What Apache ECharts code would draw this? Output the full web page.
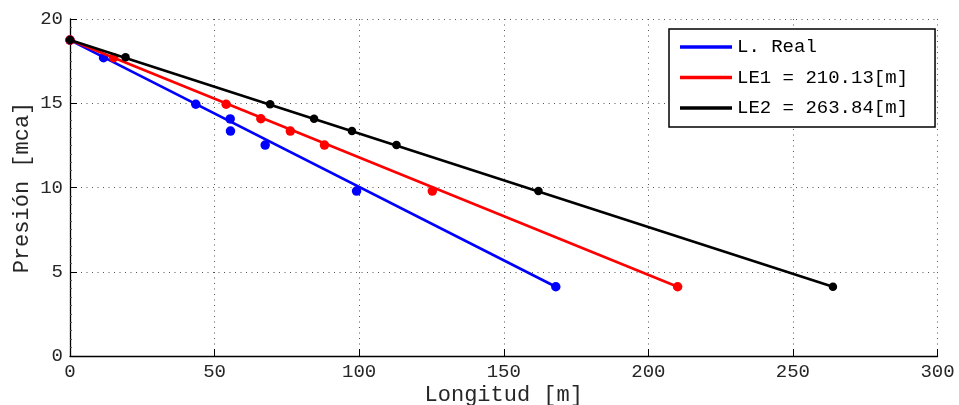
<!DOCTYPE html>
<html>
<head>
<meta charset="utf-8">
<script src="https://cdn.jsdelivr.net/npm/echarts@6/dist/echarts.min.js"></script>
<style>html,body{margin:0;padding:0;background:#fff;}#c{width:959px;height:405px;}</style>
</head>
<body>
<div id="c"></div>
<script>
// Data
const seriesNames = ['L. Real', 'LE1 = 210.13[m]', 'LE2 = 263.84[m]'];
const realX = [0, 11.6, 43.5, 55.4, 55.5, 67.5, 99.1, 168.0];
const realY = [18.75, 17.7, 14.94, 14.07, 13.35, 12.52, 9.79, 4.11];
const le1X = [0, 15.1, 54.0, 66.0, 76.2, 88.0, 125.3, 210.13];
const le1Y = [18.75, 17.7, 14.94, 14.08, 13.35, 12.52, 9.79, 4.11];
const le2X = [0, 19.2, 69.2, 84.4, 97.5, 112.9, 162.0, 263.84];
const le2Y = [18.75, 17.73, 14.94, 14.08, 13.35, 12.52, 9.79, 4.11];
const xTicks = [0, 50, 100, 150, 200, 250, 300];
const yTicks = [0, 5, 10, 15, 20];

const colors = ['#0000ff', '#ff0000', '#000000'];
const sets = [[realX, realY], [le1X, le1Y], [le2X, le2Y]];

function pts(xs, ys) { return xs.map((x, i) => [x, ys[i]]); }
function ends(xs, ys) { const n = xs.length - 1; return [[xs[0], ys[0]], [xs[n], ys[n]]]; }

const series = [];
sets.forEach((s, i) => {
  series.push({
    name: seriesNames[i], type: 'line', data: ends(s[0], s[1]),
    showSymbol: false, symbol: 'none',
    lineStyle: { color: colors[i], width: 2.6 },
    itemStyle: { color: colors[i] }, z: 2 + i * 2
  });
});
sets.forEach((s, i) => {
  series.push({
    name: seriesNames[i] + ' pts', type: 'scatter', data: pts(s[0], s[1]),
    symbol: 'circle', symbolSize: i === 2 ? 8.5 : 9.5,
    itemStyle: { color: colors[i], opacity: 1 }, z: 3 + i * 2
  });
});

const gridLine = { show: true, lineStyle: { color: '#555', width: 1, type: [1, 4.5] } };
const labelStyle = { fontFamily: 'Liberation Mono', fontSize: 19, color: '#262626' };
const nameStyle = { fontFamily: 'Liberation Mono', fontSize: 22, color: '#262626' };

const chart = echarts.init(document.getElementById('c'), null, { renderer: 'canvas' });
chart.setOption({
  animation: false,
  backgroundColor: '#fff',
  grid: { left: 70, right: 21.5, top: 19, bottom: 49, containLabel: false, outerBoundsMode: 'none' },
  xAxis: {
    type: 'value', min: xTicks[0], max: xTicks[xTicks.length - 1], interval: 50,
    name: 'Longitud [m]', nameLocation: 'middle', nameGap: 28, nameMoveOverlap: false, nameTextStyle: nameStyle,
    axisLine: { show: true, onZero: false, lineStyle: { color: '#000', width: 1.3 } },
    axisTick: { show: true, inside: true, length: 7, lineStyle: { color: '#000', width: 1 } },
    axisLabel: Object.assign({ margin: 6 }, labelStyle),
    splitLine: gridLine
  },
  yAxis: {
    type: 'value', min: yTicks[0], max: yTicks[yTicks.length - 1], interval: 5,
    name: 'Presión [mca]', nameLocation: 'middle', nameGap: 37, nameMoveOverlap: false, nameTextStyle: nameStyle,
    axisLine: { show: true, onZero: false, lineStyle: { color: '#000', width: 1.3 } },
    axisTick: { show: true, inside: true, length: 7, lineStyle: { color: '#000', width: 1 } },
    minorTick: { show: true, splitNumber: 10, length: 2, lineStyle: { color: '#555', width: 1 } },
    axisLabel: Object.assign({ margin: 7 }, labelStyle),
    splitLine: gridLine
  },
  legend: {
    data: seriesNames,
    orient: 'vertical', left: 669, top: 29,
    icon: 'rect', itemWidth: 52, itemHeight: 3.5, itemGap: 11.5,
    padding: [8.5, 27, 9.5, 11],
    backgroundColor: '#fff', borderColor: '#000', borderWidth: 1.5,
    textStyle: { fontFamily: 'Liberation Mono', fontSize: 19, color: '#000' },
    z: 20
  },
  series: series
});
</script>
</body>
</html>
